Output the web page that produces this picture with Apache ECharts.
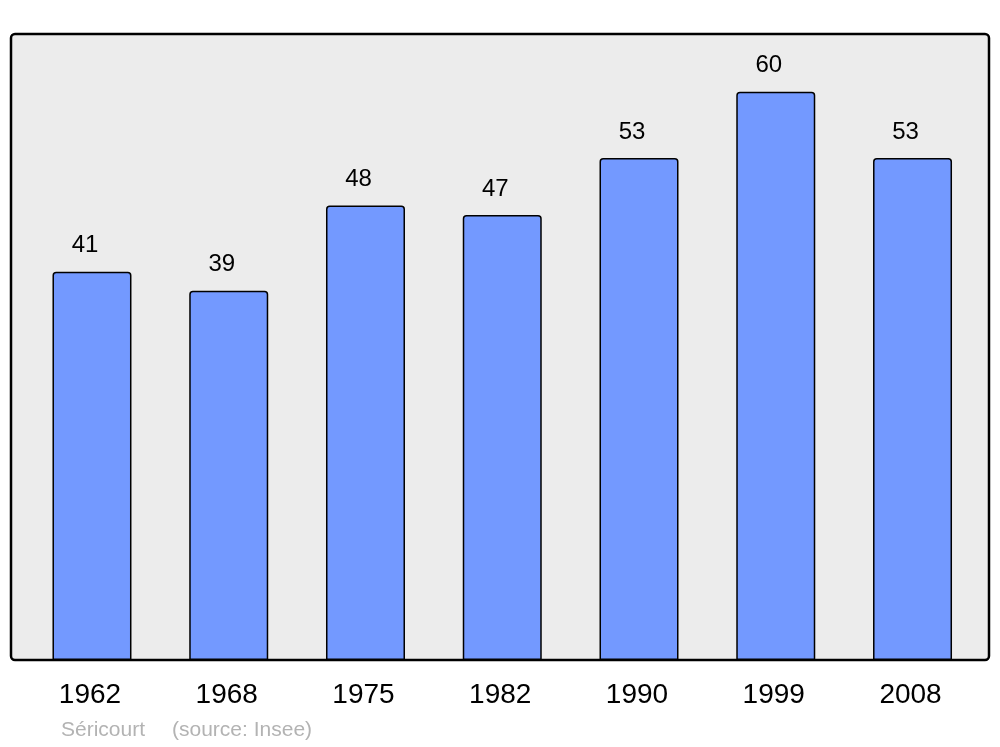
<!DOCTYPE html>
<html>
<head>
<meta charset="utf-8">
<script src="https://cdn.jsdelivr.net/npm/echarts@6/dist/echarts.min.js"></script>
<style>html,body{margin:0;padding:0;background:#fff;}#c{width:1000px;height:747px;}</style>
</head>
<body>
<div id="c"></div>
<script>
const years = ["1962", "1968", "1975", "1982", "1990", "1999", "2008"];
const population = [41, 39, 48, 47, 53, 60, 53];
const sourceName = "Séricourt";
const sourceNote = "(source: Insee)";

const chart = echarts.init(document.getElementById('c'), null, {renderer: 'canvas'});
chart.setOption({
  animation: false,
  backgroundColor: '#ffffff',
  graphic: [
    {type: 'rect', z: -10, shape: {x: 11, y: 34, width: 978, height: 626, r: 4},
     style: {fill: '#ececec', stroke: '#000000', lineWidth: 2.5}},
    {type: 'text', left: 61, top: 720, style: {text: sourceName, font: '21px "Liberation Sans", Arial, sans-serif', fill: '#b3b3b3'}},
    {type: 'text', left: 172, top: 720, style: {text: sourceNote, font: '21px "Liberation Sans", Arial, sans-serif', fill: '#b3b3b3'}}
  ],
  grid: {left: 23.6, right: 19.1, top: 34, bottom: 87, containLabel: false},
  xAxis: {
    type: 'category', data: years, boundaryGap: true,
    axisLine: {show: false}, axisTick: {show: false},
    axisLabel: {color: '#000', fontSize: 28, fontFamily: '"Liberation Sans", Arial, sans-serif', margin: 21, padding: [0, 4, 0, 0]}
  },
  yAxis: {type: 'value', min: 0, max: 66.1, show: false, splitLine: {show: false}},
  series: [{
    type: 'bar', data: population, barWidth: 79,
    itemStyle: {color: '#7399ff', borderColor: '#000', borderWidth: 1.5, borderRadius: [3, 3, 0, 0]},
    label: {show: true, position: 'top', distance: 14, offset: [-7, 0], color: '#000', fontSize: 24, fontFamily: '"Liberation Sans", Arial, sans-serif'}
  }]
});
</script>
</body>
</html>
